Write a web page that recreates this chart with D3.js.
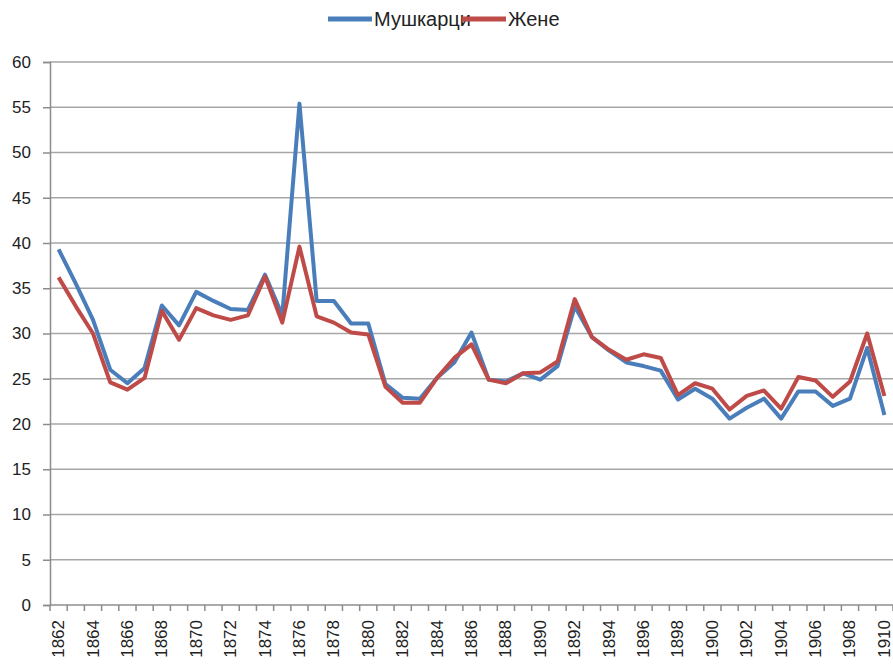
<!DOCTYPE html>
<html>
<head>
<meta charset="utf-8">
<script src="https://cdn.jsdelivr.net/npm/d3@7"></script>
<style>
  body { margin: 0; background: #fff; }
  svg { display: block; }
</style>
</head>
<body>
<div id="chart"></div>
<script>
// data
var years = d3.range(1862, 1911)
var men = [39.3, 35.5, 31.5, 26.0, 24.5, 26.2, 33.1, 30.9, 34.6, 33.6,
  32.7, 32.6, 36.5, 32.0, 55.4, 33.6, 33.6, 31.1, 31.1, 24.4,
  22.9, 22.8, 25.1, 26.8, 30.1, 24.9, 24.7, 25.6, 24.9, 26.4,
  33.0, 29.6, 28.1, 26.8, 26.4, 25.9, 22.7, 23.9, 22.8, 20.6,
  21.8, 22.8, 20.6, 23.6, 23.6, 22.0, 22.8, 28.4, 21.0]
var women = [36.2, 33.0, 30.0, 24.6, 23.8, 25.1, 32.5, 29.3, 32.8, 32.0,
  31.5, 32.0, 36.3, 31.2, 39.6, 31.9, 31.2, 30.1, 29.9, 24.1,
  22.35, 22.35, 25.1, 27.3, 28.8, 24.9, 24.5, 25.6, 25.7, 26.9,
  33.8, 29.6, 28.2, 27.1, 27.7, 27.3, 23.2, 24.5, 23.9, 21.6,
  23.1, 23.7, 21.7, 25.2, 24.8, 23.0, 24.7, 30.0, 23.1]
var series = [
  {name: 'Мушкарци', values: men, color: '#4a7ebb'},
  {name: 'Жене', values: women, color: '#be4b48'}
]
var yTicks = d3.range(0, 61, 5)

var width = 893, height = 665
var margin = {top: 62, right: 0, bottom: 60, left: 50}
var mainWidth = width - margin.left - margin.right
var mainHeight = height - margin.top - margin.bottom

var chart = d3.select('#chart').append('svg')
  .attr('width', width).attr('height', height)
  .style('font-family', '"Liberation Sans", Arial, sans-serif')

var x = d3.scaleBand().domain(years).range([0, mainWidth])
var y = d3.scaleLinear().domain([0, 60]).range([mainHeight, 0])

var g = chart.append('g')
  .attr('transform', 'translate(' + margin.left + ',' + margin.top + ')')

// gridlines
g.selectAll('.grid').data(yTicks.slice(1)).enter().append('line')
  .attr('x1', 0).attr('x2', mainWidth)
  .attr('y1', function (d) { return y(d) }).attr('y2', function (d) { return y(d) })
  .attr('stroke', '#a6a6a6').attr('stroke-width', 1.5)

// y axis
var yAxis = g.append('g')
  .call(d3.axisLeft(y).tickValues(yTicks).tickSize(7).tickPadding(12))
yAxis.select('.domain').attr('stroke', '#8c8c8c').attr('stroke-width', 1.5)
yAxis.selectAll('.tick line').attr('stroke', '#8c8c8c').attr('stroke-width', 1.5)
yAxis.selectAll('text').attr('font-size', 17).attr('fill', '#222')

// x axis: ticks at category boundaries
var xg = g.append('g').attr('transform', 'translate(0,' + mainHeight + ')')
xg.append('line').attr('x1', 0).attr('x2', mainWidth)
  .attr('stroke', '#8c8c8c').attr('stroke-width', 1.5)
xg.selectAll('.xt').data(years.concat([1911])).enter().append('line')
  .attr('x1', function (d, i) { return i * x.step() })
  .attr('x2', function (d, i) { return i * x.step() })
  .attr('y1', 0).attr('y2', 6)
  .attr('stroke', '#8c8c8c').attr('stroke-width', 1.5)
xg.selectAll('.xl').data(years.filter(function (d) { return d % 2 === 0 })).enter().append('text')
  .attr('transform', function (d) {
    return 'translate(' + (x(d) + x.bandwidth() / 2 + 5.5) + ',15) rotate(-90)'
  })
  .attr('text-anchor', 'end')
  .attr('font-size', 17)
  .attr('fill', '#222')
  .text(function (d) { return d })

// lines
var line = d3.line()
  .x(function (d, i) { return x(years[i]) + x.bandwidth() / 2 })
  .y(function (d) { return y(d) })
g.selectAll('.series').data(series).enter().append('path')
  .attr('d', function (s) { return line(s.values) })
  .attr('fill', 'none')
  .attr('stroke', function (s) { return s.color })
  .attr('stroke-width', 4)
  .attr('stroke-linejoin', 'round')

// legend
var legend = chart.append('g').attr('transform', 'translate(328,19)')
var lx = [0, 134]
series.forEach(function (s, i) {
  var lg = legend.append('g').attr('transform', 'translate(' + lx[i] + ',0)')
  lg.append('line').attr('x1', 0).attr('x2', 44)
    .attr('stroke', s.color).attr('stroke-width', 5)
  lg.append('text').attr('x', 46).attr('y', 7)
    .attr('font-size', 20)
    .attr('font-family', '"Liberation Sans Narrow", "Liberation Sans", sans-serif')
    .attr('fill', '#222')
    .text(s.name)
})
</script>
</body>
</html>
